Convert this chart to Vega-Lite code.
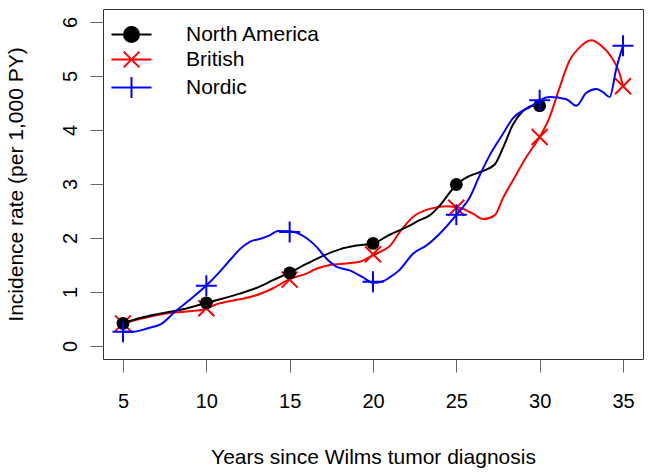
{
  "$schema": "https://vega.github.io/schema/vega-lite/v6.json",
  "width": 540,
  "height": 350,
  "autosize": {"type": "none"},
  "padding": {"left": 103, "top": 9, "right": 10, "bottom": 113},
  "background": "white",
  "config": {
    "view": {"stroke": "#333333", "strokeWidth": 1},
    "font": "Liberation Sans"
  },
  "datasets": {
    "curves": [
      {"series": "British", "x": 5, "y": 0.42},
      {"series": "British", "x": 6, "y": 0.5},
      {"series": "British", "x": 7, "y": 0.57},
      {"series": "British", "x": 7.9, "y": 0.615},
      {"series": "British", "x": 8.7, "y": 0.635},
      {"series": "British", "x": 10, "y": 0.69},
      {"series": "British", "x": 10.5, "y": 0.76},
      {"series": "British", "x": 11.9, "y": 0.86},
      {"series": "British", "x": 12.9, "y": 0.93},
      {"series": "British", "x": 14, "y": 1.07},
      {"series": "British", "x": 15, "y": 1.24},
      {"series": "British", "x": 16, "y": 1.34},
      {"series": "British", "x": 16.6, "y": 1.43},
      {"series": "British", "x": 17.4, "y": 1.5},
      {"series": "British", "x": 18.4, "y": 1.53},
      {"series": "British", "x": 19.2, "y": 1.56},
      {"series": "British", "x": 20, "y": 1.68},
      {"series": "British", "x": 20.6, "y": 1.77},
      {"series": "British", "x": 21, "y": 1.85},
      {"series": "British", "x": 21.6, "y": 2.11},
      {"series": "British", "x": 22.4, "y": 2.39},
      {"series": "British", "x": 23.4, "y": 2.54},
      {"series": "British", "x": 24.4, "y": 2.59},
      {"series": "British", "x": 25.2, "y": 2.56},
      {"series": "British", "x": 26, "y": 2.45},
      {"series": "British", "x": 26.6, "y": 2.35},
      {"series": "British", "x": 27.3, "y": 2.42},
      {"series": "British", "x": 27.8, "y": 2.74},
      {"series": "British", "x": 28.4, "y": 3.07},
      {"series": "British", "x": 29.2, "y": 3.5},
      {"series": "British", "x": 30, "y": 3.87},
      {"series": "British", "x": 30.6, "y": 4.24},
      {"series": "British", "x": 31.2, "y": 4.79},
      {"series": "British", "x": 31.8, "y": 5.29},
      {"series": "British", "x": 32.4, "y": 5.53},
      {"series": "British", "x": 33.1, "y": 5.66},
      {"series": "British", "x": 33.7, "y": 5.56},
      {"series": "British", "x": 34.3, "y": 5.35},
      {"series": "British", "x": 34.8, "y": 5.04},
      {"series": "British", "x": 35, "y": 4.81},
      {"series": "North America", "x": 5, "y": 0.42},
      {"series": "North America", "x": 5.8, "y": 0.5},
      {"series": "North America", "x": 6.6, "y": 0.56},
      {"series": "North America", "x": 7.6, "y": 0.62},
      {"series": "North America", "x": 8.6, "y": 0.68},
      {"series": "North America", "x": 10, "y": 0.8},
      {"series": "North America", "x": 11, "y": 0.88},
      {"series": "North America", "x": 12, "y": 0.97},
      {"series": "North America", "x": 13.2, "y": 1.1},
      {"series": "North America", "x": 14, "y": 1.22},
      {"series": "North America", "x": 15, "y": 1.36},
      {"series": "North America", "x": 16, "y": 1.52},
      {"series": "North America", "x": 17, "y": 1.67},
      {"series": "North America", "x": 18, "y": 1.79},
      {"series": "North America", "x": 19, "y": 1.86},
      {"series": "North America", "x": 20, "y": 1.9},
      {"series": "North America", "x": 21, "y": 2.06},
      {"series": "North America", "x": 22, "y": 2.2},
      {"series": "North America", "x": 22.8, "y": 2.33},
      {"series": "North America", "x": 23.4, "y": 2.42},
      {"series": "North America", "x": 24, "y": 2.6},
      {"series": "North America", "x": 24.6, "y": 2.84},
      {"series": "North America", "x": 25, "y": 2.99},
      {"series": "North America", "x": 25.6, "y": 3.12},
      {"series": "North America", "x": 26.4, "y": 3.22},
      {"series": "North America", "x": 27.3, "y": 3.36},
      {"series": "North America", "x": 27.8, "y": 3.67},
      {"series": "North America", "x": 28.4, "y": 4.1},
      {"series": "North America", "x": 29, "y": 4.35},
      {"series": "North America", "x": 29.6, "y": 4.45},
      {"series": "North America", "x": 30, "y": 4.45},
      {"series": "Nordic", "x": 5, "y": 0.265},
      {"series": "Nordic", "x": 5.6, "y": 0.265},
      {"series": "Nordic", "x": 6.5, "y": 0.33},
      {"series": "Nordic", "x": 7.3, "y": 0.41},
      {"series": "Nordic", "x": 8.1, "y": 0.63},
      {"series": "Nordic", "x": 9.1, "y": 0.88},
      {"series": "Nordic", "x": 10, "y": 1.12},
      {"series": "Nordic", "x": 10.7, "y": 1.34},
      {"series": "Nordic", "x": 11.5, "y": 1.62},
      {"series": "Nordic", "x": 12, "y": 1.79},
      {"series": "Nordic", "x": 12.6, "y": 1.93},
      {"series": "Nordic", "x": 13.3, "y": 1.99},
      {"series": "Nordic", "x": 13.8, "y": 2.05},
      {"series": "Nordic", "x": 14.3, "y": 2.13},
      {"series": "Nordic", "x": 15, "y": 2.125},
      {"series": "Nordic", "x": 16, "y": 2.0},
      {"series": "Nordic", "x": 16.6, "y": 1.84},
      {"series": "Nordic", "x": 17.2, "y": 1.62},
      {"series": "Nordic", "x": 17.8, "y": 1.47},
      {"series": "Nordic", "x": 18.6, "y": 1.4},
      {"series": "Nordic", "x": 19.4, "y": 1.27},
      {"series": "Nordic", "x": 20, "y": 1.17},
      {"series": "Nordic", "x": 20.6, "y": 1.2},
      {"series": "Nordic", "x": 21, "y": 1.27},
      {"series": "Nordic", "x": 21.6, "y": 1.41},
      {"series": "Nordic", "x": 22.4, "y": 1.71},
      {"series": "Nordic", "x": 23.2, "y": 1.86},
      {"series": "Nordic", "x": 24, "y": 2.08},
      {"series": "Nordic", "x": 25, "y": 2.43},
      {"series": "Nordic", "x": 25.8, "y": 2.75},
      {"series": "Nordic", "x": 26.4, "y": 3.16},
      {"series": "Nordic", "x": 27, "y": 3.53},
      {"series": "Nordic", "x": 27.8, "y": 3.93},
      {"series": "Nordic", "x": 28.4, "y": 4.22},
      {"series": "Nordic", "x": 29, "y": 4.36},
      {"series": "Nordic", "x": 29.4, "y": 4.42},
      {"series": "Nordic", "x": 30, "y": 4.55},
      {"series": "Nordic", "x": 30.6, "y": 4.61},
      {"series": "Nordic", "x": 31.6, "y": 4.57},
      {"series": "Nordic", "x": 32.2, "y": 4.45},
      {"series": "Nordic", "x": 32.8, "y": 4.69},
      {"series": "Nordic", "x": 33.4, "y": 4.76},
      {"series": "Nordic", "x": 33.8, "y": 4.7},
      {"series": "Nordic", "x": 34.2, "y": 4.61},
      {"series": "Nordic", "x": 34.6, "y": 5.14},
      {"series": "Nordic", "x": 35, "y": 5.56}
    ],
    "markers": [
      {"series": "North America", "x": 5, "y": 0.42},
      {"series": "North America", "x": 10, "y": 0.8},
      {"series": "North America", "x": 15, "y": 1.355},
      {"series": "North America", "x": 20, "y": 1.9},
      {"series": "North America", "x": 25, "y": 2.99},
      {"series": "North America", "x": 30, "y": 4.45},
      {"series": "British", "x": 5, "y": 0.42},
      {"series": "British", "x": 10, "y": 0.7},
      {"series": "British", "x": 15, "y": 1.23},
      {"series": "British", "x": 20, "y": 1.7},
      {"series": "British", "x": 25, "y": 2.56},
      {"series": "British", "x": 30, "y": 3.87},
      {"series": "British", "x": 35, "y": 4.81},
      {"series": "Nordic", "x": 5, "y": 0.265},
      {"series": "Nordic", "x": 10, "y": 1.115},
      {"series": "Nordic", "x": 15, "y": 2.11},
      {"series": "Nordic", "x": 20, "y": 1.19},
      {"series": "Nordic", "x": 25, "y": 2.43},
      {"series": "Nordic", "x": 30, "y": 4.55},
      {"series": "Nordic", "x": 35, "y": 5.56}
    ]
  },
  "encoding": {
    "x": {
      "field": "x", "type": "quantitative",
      "scale": {"domain": [3.8, 36.2], "nice": false, "zero": false},
      "axis": {
        "values": [5, 10, 15, 20, 25, 30, 35],
        "domain": false, "grid": false,
        "tickSize": 13, "tickColor": "#666666", "tickWidth": 1,
        "labelFontSize": 20, "labelColor": "black", "labelFont": "Liberation Sans",
        "labelBaseline": "alphabetic", "labelPadding": 35,
        "labelFlush": false, "labelOverlap": false,
        "title": "Years since Wilms tumor diagnosis",
        "titleFontSize": 21, "titleFontWeight": "normal", "titleColor": "black", "titleFont": "Liberation Sans",
        "titleX": 270, "titleY": 104, "titleBaseline": "alphabetic", "titleAlign": "center", "titleAnchor": null
      }
    },
    "y": {
      "field": "y", "type": "quantitative",
      "scale": {"domain": [-0.24, 6.24], "nice": false, "zero": false},
      "axis": {
        "values": [0, 1, 2, 3, 4, 5, 6],
        "domain": false, "grid": false,
        "tickSize": 13, "tickColor": "#666666", "tickWidth": 1,
        "labelFontSize": 20, "labelColor": "black", "labelFont": "Liberation Sans",
        "labelAngle": -90, "labelAlign": "center", "labelBaseline": "alphabetic", "labelPadding": 14,
        "labelFlush": false, "labelOverlap": false,
        "title": "Incidence rate (per 1,000 PY)",
        "titleFontSize": 21, "titleFontWeight": "normal", "titleColor": "black", "titleFont": "Liberation Sans",
        "titleAngle": -90, "titleX": -81, "titleY": 175, "titleBaseline": "alphabetic", "titleAlign": "center"
      }
    },
    "color": {
      "field": "series", "type": "nominal",
      "scale": {"domain": ["North America", "British", "Nordic"], "range": ["#000000", "#ff0000", "#0000ff"]},
      "legend": {
        "title": null,
        "orient": "none",
        "legendX": 18,
        "legendY": 15,
        "padding": 0,
        "symbolSize": 225,
        "symbolOffset": 0,
        "labelFontSize": 21,
        "labelFont": "Liberation Sans",
        "labelColor": "black",
        "labelOffset": 44,
        "rowPadding": 1,
        "labelLimit": 300,
        "encode": {
          "symbols": {
            "update": {
              "shape": {"signal": "datum.value === 'North America' ? 'M-2.67,0L2.67,0M-1,0A1,1 0 1,0 1,0A1,1 0 1,0 -1,0Z' : datum.value === 'British' ? 'M-2.67,0L2.67,0M-1.05,-1.05L1.05,1.05M-1.05,1.05L1.05,-1.05' : 'M-2.67,0L2.67,0M0,-1.4L0,1.4'"},
              "fill": {"signal": "datum.value === 'North America' ? '#000000' : 'transparent'"},
              "stroke": {"signal": "datum.value === 'North America' ? '#000000' : datum.value === 'British' ? '#ff0000' : '#0000ff'"},
              "strokeWidth": {"value": 2},
              "size": {"value": 225},
              "opacity": {"value": 1}
            }
          }
        }
      }
    }
  },
  "layer": [
    {
      "data": {"name": "curves"},
      "transform": [{"filter": "datum.series === 'British'"}],
      "mark": {"type": "line", "strokeWidth": 2, "clip": true, "interpolate": "monotone"}
    },
    {
      "data": {"name": "markers"},
      "transform": [{"filter": "datum.series === 'British'"}],
      "mark": {"type": "point", "shape": "M-1,-1L1,1M-1,1L1,-1", "filled": false, "size": 256, "strokeWidth": 2, "opacity": 1}
    },
    {
      "data": {"name": "curves"},
      "transform": [{"filter": "datum.series === 'North America'"}],
      "mark": {"type": "line", "strokeWidth": 2, "clip": true, "interpolate": "monotone"}
    },
    {
      "data": {"name": "markers"},
      "transform": [{"filter": "datum.series === 'North America'"}],
      "mark": {"type": "point", "shape": "circle", "filled": true, "size": 165, "opacity": 1}
    },
    {
      "data": {"name": "curves"},
      "transform": [{"filter": "datum.series === 'Nordic'"}],
      "mark": {"type": "line", "strokeWidth": 2, "clip": true, "interpolate": "monotone"}
    },
    {
      "data": {"name": "markers"},
      "transform": [{"filter": "datum.series === 'Nordic'"}],
      "mark": {"type": "point", "shape": "M-1,0L1,0M0,-1L0,1", "filled": false, "size": 441, "strokeWidth": 2, "opacity": 1}
    }
  ]
}
